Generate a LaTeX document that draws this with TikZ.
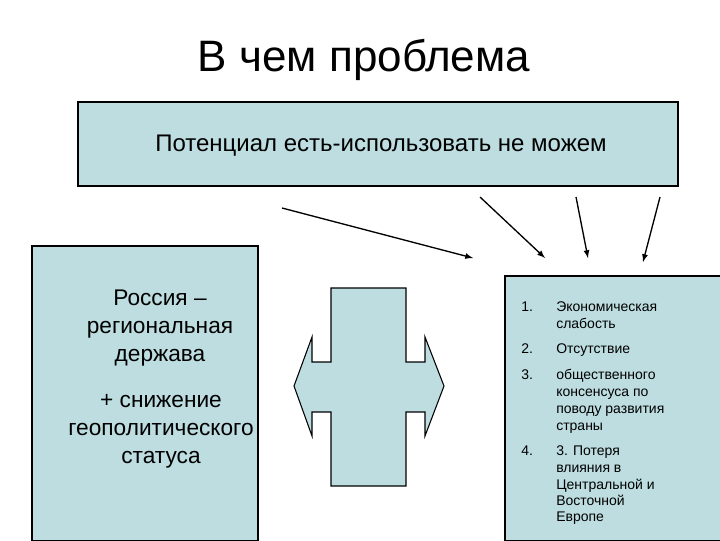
\documentclass[tikz,border=0pt]{standalone}
\usepackage{fontspec}
\setmainfont{Liberation Sans}
\definecolor{boxfill}{HTML}{BDDDE0}
\begin{document}
\begin{tikzpicture}[x=0.75pt,y=-0.75pt,
  box/.style={draw=black,fill=boxfill,line width=0.8pt},
  arr/.style={-latex,line width=1pt},
  itm/.style={anchor=base west,inner sep=0pt,font=\fontsize{10.5}{12}\selectfont}]
\useasboundingbox (0,0) rectangle (720,540);
\node (title) at (364,60) {\fontsize{33}{38}\selectfont В чем проблема};
\draw[box] (78,102) rectangle (678,186);
\node (top) at (381,146) {\fontsize{18}{22}\selectfont Потенциал есть-использовать не можем};
\draw[box] (32,246) rectangle (258,541);
\node (left) at (160,328) [align=center,font=\fontsize{17}{21}\selectfont] {Россия –\\региональная\\держава};
\node (left2) at (161,431) [align=center,font=\fontsize{17}{21}\selectfont] {+ снижение\\геополитического\\статуса};
\draw[box] (331,288) -- (406,288) -- (406,362) -- (425,362) -- (425,337) -- (444,386) -- (425,436) -- (425,412) -- (406,412) -- (406,486) -- (331,486) -- (331,412) -- (312,412) -- (312,436) -- (294,386) -- (312,337) -- (312,362) -- (331,362) -- cycle;
\draw[box] (505,276) rectangle (721,541);
\coordinate (a1s) at (282,208); \coordinate (a1e) at (473,258);
\coordinate (a2s) at (480,197); \coordinate (a2e) at (545,258);
\coordinate (a3s) at (576,197); \coordinate (a3e) at (588,258);
\coordinate (a4s) at (660,197); \coordinate (a4e) at (643,262);
\draw[arr] (a1s) -- (a1e);
\draw[arr] (a2s) -- (a2e);
\draw[arr] (a3s) -- (a3e);
\draw[arr] (a4s) -- (a4e);
\node[itm] (n1) at (521,311) {1.};
\node[itm] (t1) at (556,311) {Экономическая};
\node[itm] (t1b) at (556,328) {слабость};
\node[itm] (n2) at (521,353) {2.};
\node[itm] (t2) at (556,353) {Отсутствие};
\node[itm] (n3) at (521,379) {3.};
\node[itm] (t3) at (556,379) {общественного};
\node[itm] (t3b) at (556,396) {консенсуса по};
\node[itm] (t3c) at (556,413) {поводу развития};
\node[itm] (t3d) at (556,430) {страны};
\node[itm] (n4) at (521,455) {4.};
\node[itm] (t4) at (556,455) {3. Потеря};
\node[itm] (t4b) at (556,472) {влияния в};
\node[itm] (t4c) at (556,489) {Центральной и};
\node[itm] (t4d) at (556,505) {Восточной};
\node[itm] (t4e) at (556,521) {Европе};
\end{tikzpicture}
\end{document}
